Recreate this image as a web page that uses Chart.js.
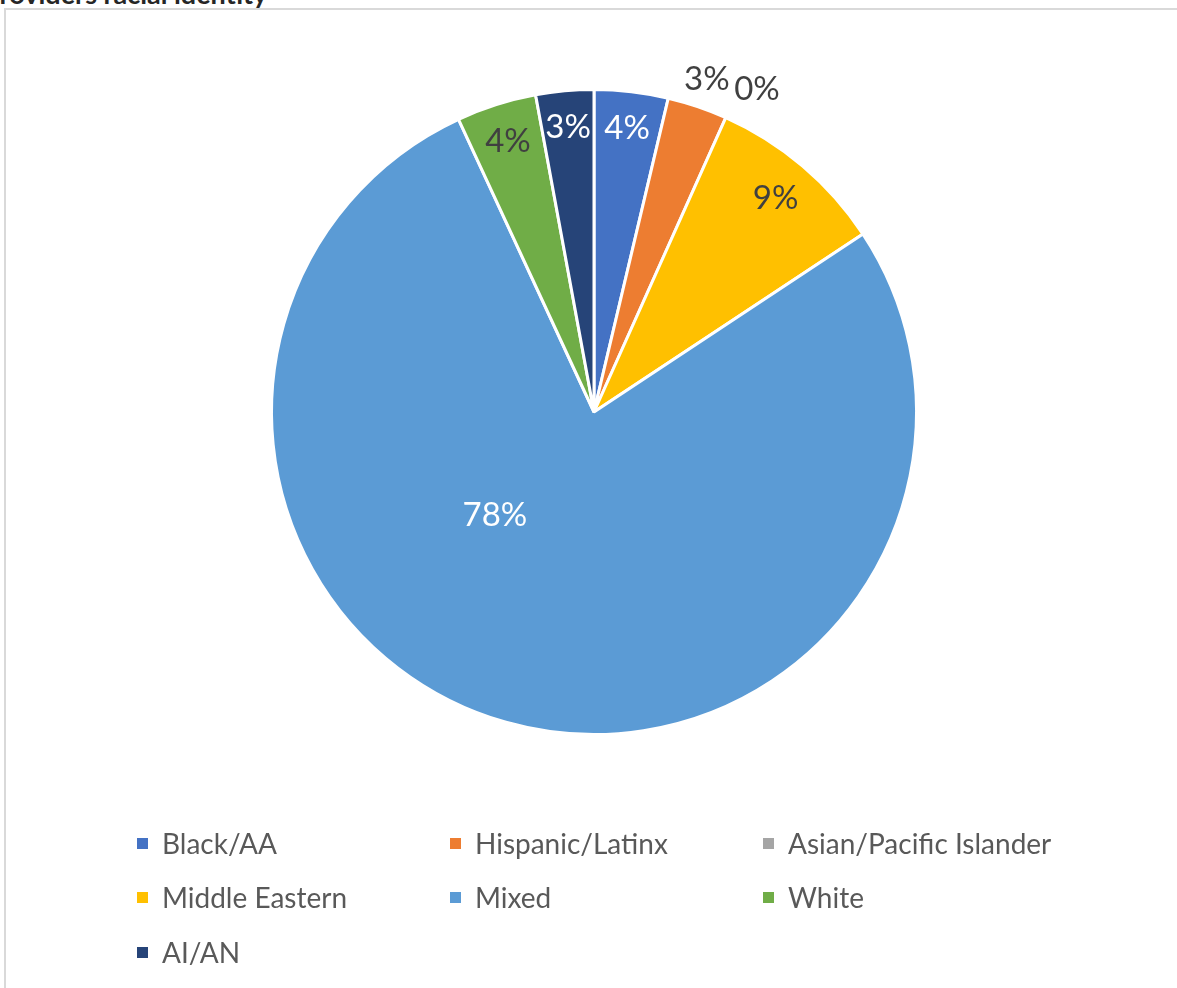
<!DOCTYPE html>
<html>
<head>
<meta charset="utf-8">
<script src="https://cdn.jsdelivr.net/npm/chart.js@4.4.0/dist/chart.umd.min.js"></script>
<style>
  html, body { margin: 0; padding: 0; background: #fff; }
  body { width: 1177px; height: 988px; position: relative; overflow: hidden; font-family: Lato, "Open Sans", sans-serif; }
  #title { position: absolute; left: -17px; top: -22px; font-size: 27px; line-height: 32px; font-weight: bold; color: #262626; white-space: nowrap; font-family: Lato, sans-serif; }
  #frame { position: absolute; left: 4px; top: 8px; width: 1200px; height: 1200px; border-left: 2px solid #d9d9d9; border-top: 2px solid #d9d9d9; box-sizing: border-box; }
  #wrap { position: absolute; left: 0; top: 0; width: 1177px; height: 988px; }
  #legend { position: absolute; left: 137px; top: 826px; width: 960px; }
  .item { position: absolute; display: flex; align-items: center; font-size: 28px; line-height: 34px; color: #595959; white-space: nowrap; }
  .sw { width: 11px; height: 11px; margin-right: 14px; }
</style>
</head>
<body>
<div id="title">Providers racial identity</div>
<div id="frame"></div>
<div id="wrap"><canvas id="c" width="1177" height="988"></canvas></div>
<div id="legend"></div>
<script>
const categories = ["Black/AA", "Hispanic/Latinx", "Asian/Pacific Islander", "Middle Eastern", "Mixed", "White", "AI/AN"];
const values = [3.7, 3.0, 0, 9.0, 77.4, 4.0, 2.9];
const percentLabels = ["4%", "3%", "0%", "9%", "78%", "4%", "3%"];
const colors = ["#4472C4", "#ED7D31", "#A5A5A5", "#FFC000", "#5B9BD5", "#70AD47", "#264478"];
const labelColors = ["#ffffff", "#404040", "#404040", "#404040", "#ffffff", "#404040", "#ffffff"];

// label placement (style): radius fraction and angle offset (deg)
const labelPlacement = [
  {r: 0.885, da: 0}, {r: 1.09, da: 0}, {r: 1.12, da: 2.7}, {r: 0.87, da: 0},
  {r: 0.445, da: 27.8}, {r: 0.88, da: 0}, {r: 0.885, da: 0}
];

const labelPlugin = {
  id: 'pctLabels',
  afterDatasetsDraw(chart) {
    const ctx = chart.ctx;
    const meta = chart.getDatasetMeta(0);
    ctx.save();
    ctx.font = '33px Lato, "Open Sans", sans-serif';
    ctx.textAlign = 'center';
    ctx.textBaseline = 'middle';
    meta.data.forEach((arc, i) => {
      const p = arc.getProps(['x', 'y', 'startAngle', 'endAngle', 'outerRadius'], true);
      const mid = (p.startAngle + p.endAngle) / 2 + labelPlacement[i].da * Math.PI / 180;
      const rr = p.outerRadius * labelPlacement[i].r;
      const x = p.x + Math.cos(mid) * rr;
      const y = p.y + Math.sin(mid) * rr;
      ctx.fillStyle = labelColors[i];
      ctx.fillText(percentLabels[i], x, y);
    });
    ctx.restore();
  }
};

new Chart(document.getElementById('c'), {
  type: 'pie',
  data: {
    labels: categories,
    datasets: [{
      data: values,
      backgroundColor: colors,
      borderColor: '#ffffff',
      borderWidth: 3
    }]
  },
  options: {
    responsive: false,
    animation: false,
    layout: { padding: { left: 270, right: 259, top: 87, bottom: 251 } },
    plugins: { legend: { display: false }, tooltip: { enabled: false } }
  },
  plugins: [labelPlugin]
});

// HTML legend, 3 columns
const legend = document.getElementById('legend');
const colX = [0, 313, 626];
const rowY = [0, 54, 109];
categories.forEach((name, i) => {
  const d = document.createElement('div');
  d.className = 'item';
  d.style.left = colX[i % 3] + 'px';
  d.style.top = rowY[Math.floor(i / 3)] + 'px';
  d.innerHTML = '<span class="sw" style="background:' + colors[i] + '"></span><span>' + name + '</span>';
  legend.appendChild(d);
});
</script>
</body>
</html>
